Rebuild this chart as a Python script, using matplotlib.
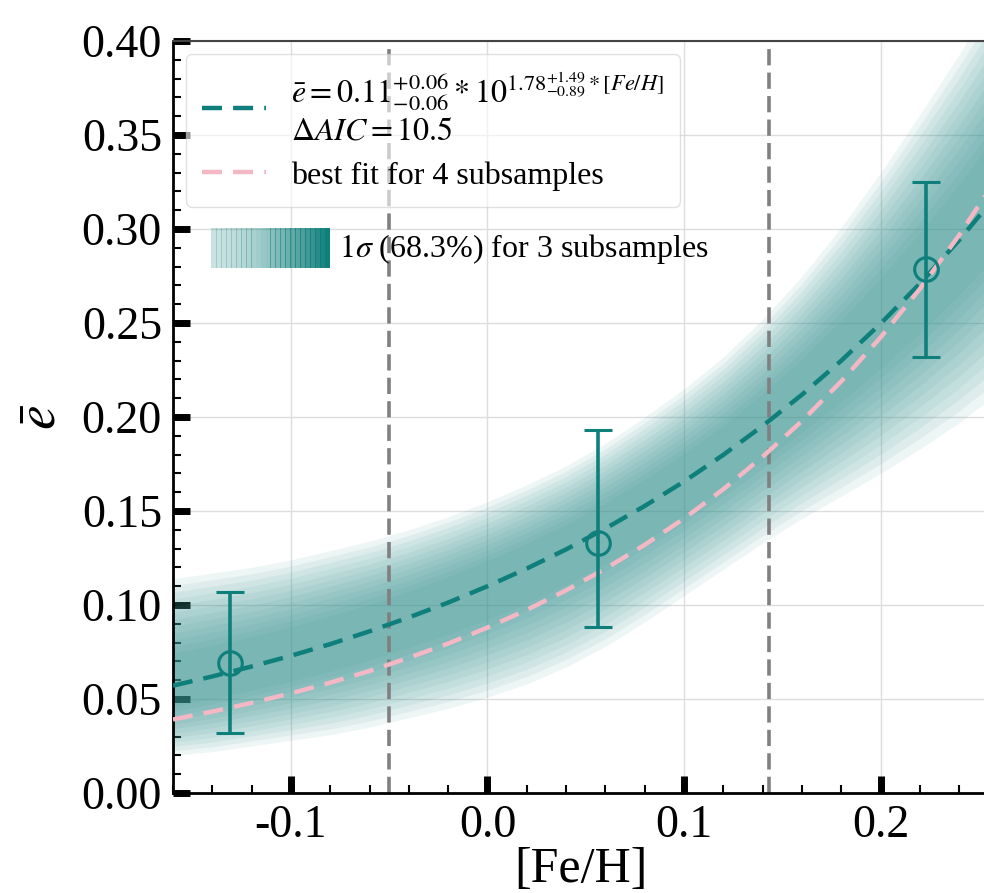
import numpy as np
import matplotlib
matplotlib.use('Agg')
import matplotlib.pyplot as plt
from matplotlib.patches import Rectangle

plt.rcParams['font.family'] = ['Liberation Serif', 'DejaVu Serif']
plt.rcParams['mathtext.fontset'] = 'stix'

# data
feh = [-0.16, -0.14, -0.12, -0.10, -0.08, -0.06, -0.04, -0.02, 0.00, 0.02, 0.04,
       0.06, 0.08, 0.10, 0.12, 0.14, 0.16, 0.18, 0.20, 0.22, 0.24, 0.26]
fit3 = [0.0571, 0.0620, 0.0673, 0.0730, 0.0792, 0.0860, 0.0934, 0.1013, 0.1100, 0.1194, 0.1296,
        0.1407, 0.1527, 0.1657, 0.1799, 0.1953, 0.2119, 0.2300, 0.2497, 0.2710, 0.2942, 0.3193]
fit4 = [0.0391, 0.0433, 0.0479, 0.0530, 0.0587, 0.0649, 0.0719, 0.0795, 0.0880, 0.0974, 0.1078,
        0.1193, 0.1320, 0.1460, 0.1616, 0.1789, 0.1979, 0.2190, 0.2424, 0.2682, 0.2968, 0.3285]
band_lo = [0.020, 0.022, 0.025, 0.028, 0.031, 0.035, 0.040, 0.045, 0.051, 0.058, 0.067,
           0.078, 0.091, 0.105, 0.119, 0.133, 0.146, 0.158, 0.170, 0.183, 0.197, 0.213]
band_hi = [0.114, 0.117, 0.120, 0.124, 0.129, 0.134, 0.140, 0.147, 0.155, 0.164, 0.174,
           0.186, 0.200, 0.215, 0.232, 0.252, 0.275, 0.301, 0.330, 0.361, 0.393, 0.427]

pt_x = [-0.131, 0.056, 0.223]
pt_y = [0.069, 0.133, 0.279]
err_lo = [0.037, 0.0445, 0.047]
err_hi = [0.038, 0.060, 0.046]

bins = [-0.05, 0.143]

teal = '#0f7f7b'
pink = '#f4b8c4'

fig = plt.figure(figsize=(9.84, 8.93), dpi=100)
ax = fig.add_axes([0.1758, 0.112, 0.829, 0.842])

# posterior band, layered so it fades at the edges
x = np.array(feh)
lo = np.array(band_lo)
hi = np.array(band_hi)
mid = np.array(fit3)
for f in np.linspace(0, 0.7, 12):
    ax.fill_between(x, lo + f * (mid - lo), hi - f * (hi - mid),
                    color='#3a9793', alpha=0.085, lw=0, zorder=1)

ax.plot(feh, fit3, ls=(0, (4.5, 2.5)), lw=3.2, color=teal, zorder=3,
        label='$\\bar{e}=0.11^{+0.06}_{-0.06}*10^{1.78^{+1.49}_{-0.89}*[Fe/H]}$\n$\\Delta AIC=10.5$')
ax.plot(feh, fit4, ls=(0, (4.5, 2.5)), lw=3.2, color=pink, zorder=3,
        label='best fit for 4 subsamples')

for b in bins:
    ax.axvline(b, color='#808080', ls=(0, (4.5, 2)), lw=2.6, zorder=2)

ax.errorbar(pt_x, pt_y, yerr=[err_lo, err_hi], fmt='o', mfc='none', mec=teal,
            ms=17, mew=2.2, ecolor=teal, elinewidth=2.6, capsize=10, capthick=2.6, zorder=4)

ax.set_xlim(-0.16, 0.255)
ax.set_ylim(0, 0.40)
ax.set_xticks([-0.1, 0.0, 0.1, 0.2])
ax.set_xticks(np.arange(-0.16, 0.26, 0.02), minor=True)
ax.set_yticks(np.arange(0, 0.401, 0.05))
ax.set_yticks(np.arange(0, 0.401, 0.01), minor=True)
ax.yaxis.set_major_formatter(matplotlib.ticker.FormatStrFormatter('%.2f'))
ax.xaxis.set_major_formatter(matplotlib.ticker.FormatStrFormatter('%.1f'))
ax.tick_params(which='major', direction='in', length=12, width=5, labelsize=33, pad=8)
ax.tick_params(which='minor', direction='in', length=6, width=1.5)
ax.tick_params(top=False, right=False, which='both')
ax.grid(True, which='major', color='#dddddd', lw=1, zorder=0)
ax.set_axisbelow(True)
ax.spines['left'].set_linewidth(2)
ax.spines['bottom'].set_linewidth(2)
ax.spines['top'].set_linewidth(1.5)
ax.spines['top'].set_color('#444444')

ax.set_xlabel('[Fe/H]', fontsize=36, labelpad=0)
ax.set_ylabel('$\\bar{e}$', fontsize=40, labelpad=10)

leg = ax.legend(loc='upper left', fontsize=23, framealpha=0.6, edgecolor='#cccccc',
                handlelength=2.0, borderaxespad=0.4, labelspacing=0.45, borderpad=0.5)
leg.set_zorder(5)

# gradient swatch for the 1 sigma entry
n = 24
x0, x1, y0, y1 = 0.047, 0.192, 0.698, 0.751
for i in range(n):
    a = 0.22 + 0.78 * (i / (n - 1)) ** 1.6
    ax.add_patch(Rectangle((x0 + (x1 - x0) * i / n, y0), (x1 - x0) / n + 0.001, y1 - y0,
                           transform=ax.transAxes, color=teal, alpha=a, lw=0, zorder=6))
ax.text(0.203, 0.724, '$1\\sigma$ (68.3%) for 3 subsamples', transform=ax.transAxes,
        fontsize=23, va='center', ha='left', zorder=6)

fig.savefig('out.png', dpi=100)
